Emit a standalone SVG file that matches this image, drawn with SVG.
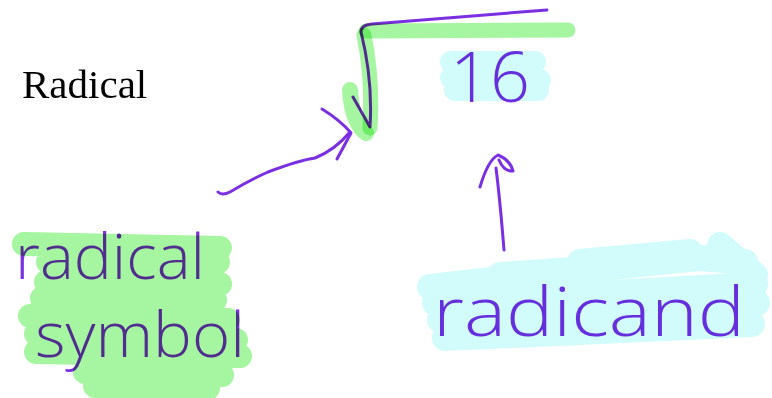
<svg xmlns="http://www.w3.org/2000/svg" width="772" height="398" viewBox="0 0 772 398">
  <style>
    .ink { fill: none; stroke: #7a2fe2; stroke-width: 3; stroke-linecap: round; stroke-linejoin: round; }
    .hand { fill: #7a2fe2; font-family: "Open Sans", "DejaVu Sans", sans-serif; font-weight: 300; }
    .hlg { fill: none; stroke: #a6f5a0; stroke-linecap: round; stroke-linejoin: round; mix-blend-mode: multiply; }
    .hlc { fill: none; stroke: #d2fbfb; stroke-linecap: round; stroke-linejoin: round; mix-blend-mode: multiply; }
    .title { font-family: "Liberation Serif", "Times New Roman", serif; font-size: 41px; fill: #000; }
  </style>
  <rect width="772" height="398" fill="#fff"/>

  <g id="title">
    <text class="title" x="22" y="98">Radical</text>
  </g>

  <g id="radical-sign">
    <path class="ink" d="M353,97 L370,127 Q373,80 361,32 Q361,25 372,24 L547,10"/>
    <path class="hlg" stroke-width="15" d="M366,31 L568,30"/>
    <path class="hlg" stroke-width="15" d="M364,35 Q373,80 370,128"/>
    <path class="hlg" stroke-width="16" d="M350,90 Q352,122 366,133"/>
  </g>

  <g id="radicand-value">
    <text class="hand" x="450" y="102" font-size="70" textLength="80" lengthAdjust="spacingAndGlyphs">16</text>
    <path class="hlc" stroke-width="22" d="M451,62 L535,62 M451,78 L540,80 M455,90 L538,90"/>
  </g>

  <g id="radical-symbol-label">
    <text class="hand" x="15" y="279" font-size="62" textLength="190" lengthAdjust="spacingAndGlyphs">radical</text>
    <text class="hand" x="35" y="357" font-size="62" textLength="210" lengthAdjust="spacingAndGlyphs">symbol</text>
    <path class="hlg" stroke-width="24" d="M24,244 L220,248 M48,262 L218,262 M46,282 L220,284 M42,298 L215,300 M30,316 L228,320 M36,334 L236,340 M36,352 L240,356 M85,372 L222,375 M95,386 L208,388"/>
  </g>

  <g id="radicand-label">
    <text class="hand" x="433" y="336" font-size="68" textLength="312" lengthAdjust="spacingAndGlyphs">radicand</text>
    <path class="hlc" stroke-width="26" d="M430,287 L560,272 L700,258 L745,262 M435,303 L755,285 M440,320 L757,303 M445,338 L752,324 M720,245 L755,275 M580,262 L690,252 M500,275 L600,268"/>
  </g>

  <g id="connectors">
    <path class="ink" d="M218,192 Q222,196 230,192 Q250,180 268,172 Q300,160 315,158 Q335,150 350,132"/>
    <path class="ink" d="M322,109 Q340,120 351,133 L337,159"/>
    <path class="ink" d="M504,250 Q500,200 496,168"/>
    <path class="ink" d="M480,187 Q488,160 498,155 Q510,160 513,171 Q504,172 499,160"/>
  </g>
</svg>
